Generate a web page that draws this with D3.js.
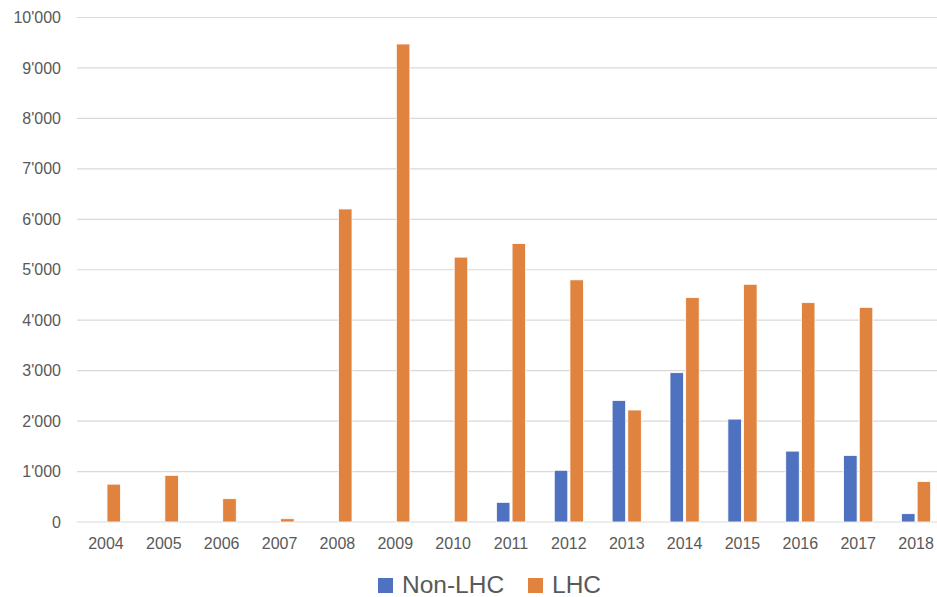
<!DOCTYPE html>
<html>
<head>
<meta charset="utf-8">
<script src="https://cdn.jsdelivr.net/npm/d3@7"></script>
<style>
  html, body { margin: 0; padding: 0; background: #fff; }
  svg { display: block; }
  text { font-family: "Liberation Sans", Arial, sans-serif; fill: #595959; }
</style>
</head>
<body>
<svg id="chart" width="937" height="597"></svg>
<script>
// Years on the category axis
const years = ["2004","2005","2006","2007","2008","2009","2010","2011","2012","2013","2014","2015","2016","2017","2018"];
// Non-LHC values per year
const nonLhc = [0, 0, 0, 0, 0, 0, 0, 390, 1025, 2410, 2960, 2040, 1405, 1320, 165];
// LHC values per year
const lhc = [750, 925, 462, 65, 6205, 9475, 5250, 5520, 4800, 2220, 4447, 4712, 4348, 4255, 800];
// Series names and colours
const seriesNames = ["Non-LHC", "LHC"];
const seriesColors = ["#4E72C0", "#E0833F"];
// Value axis ticks
const yTicks = [0, 1000, 2000, 3000, 4000, 5000, 6000, 7000, 8000, 9000, 10000];

const svg = d3.select("#chart");
const plot = { left: 77, right: 945, top: 17.5, bottom: 522 };

const x = d3.scaleBand().domain(years).range([plot.left, plot.right]).padding(0);
const barW = 12.6, gap = 4;
const xs = d3.scaleBand().domain(seriesNames)
  .range([x.bandwidth() / 2 - barW - gap / 2, x.bandwidth() / 2 + barW + gap / 2])
  .paddingInner(gap / (barW * 2 + gap)).paddingOuter(0);
const y = d3.scaleLinear().domain([0, 10000]).range([plot.bottom, plot.top]);

const fmt = v => d3.format(",")(v).replace(/,/g, "'");

// Gridlines
svg.append("g")
  .selectAll("line")
  .data(yTicks)
  .join("line")
  .attr("x1", plot.left).attr("x2", plot.right)
  .attr("y1", d => y(d)).attr("y2", d => y(d))
  .attr("stroke", "#d9d9d9").attr("stroke-width", 1.2);

// Y axis labels
const yAxis = d3.axisLeft(y).tickValues(yTicks).tickFormat(fmt).tickSize(0).tickPadding(16);
const gy = svg.append("g").attr("transform", `translate(${plot.left},0)`).call(yAxis);
gy.select(".domain").remove();
gy.selectAll("text").attr("font-size", "16px").attr("fill", "#595959")
  .attr("font-family", "'Liberation Sans', Arial, sans-serif");

// X axis labels
const xAxis = d3.axisBottom(x).tickSize(0).tickPadding(16);
const gx = svg.append("g").attr("transform", `translate(0,${plot.bottom})`).call(xAxis);
gx.select(".domain").remove();
gx.selectAll("text").attr("font-size", "16px").attr("fill", "#595959")
  .attr("font-family", "'Liberation Sans', Arial, sans-serif");

// Bars
const rows = years.map((yr, i) => ({ year: yr, values: [nonLhc[i], lhc[i]] }));
const groups = svg.append("g").selectAll("g")
  .data(rows)
  .join("g")
  .attr("transform", d => `translate(${x(d.year)},0)`);

groups.selectAll("rect")
  .data(d => d.values.map((v, k) => ({ name: seriesNames[k], value: v, color: seriesColors[k] })))
  .join("rect")
  .filter(d => d.value > 0)
  .attr("x", d => xs(d.name))
  .attr("width", xs.bandwidth())
  .attr("y", d => y(d.value))
  .attr("height", d => y(0) - y(d.value))
  .attr("fill", d => d.color)
  .attr("stroke", "#fff").attr("stroke-width", 0.8);

// Legend
const legend = svg.append("g");
const legendItems = [
  { name: seriesNames[0], color: seriesColors[0], x: 378 },
  { name: seriesNames[1], color: seriesColors[1], x: 528 }
];
legendItems.forEach(it => {
  legend.append("rect")
    .attr("x", it.x).attr("y", 578).attr("width", 15).attr("height", 15)
    .attr("fill", it.color);
  legend.append("text")
    .attr("x", it.x + 24).attr("y", 593)
    .attr("font-size", "24.5px")
    .text(it.name);
});
</script>
</body>
</html>
